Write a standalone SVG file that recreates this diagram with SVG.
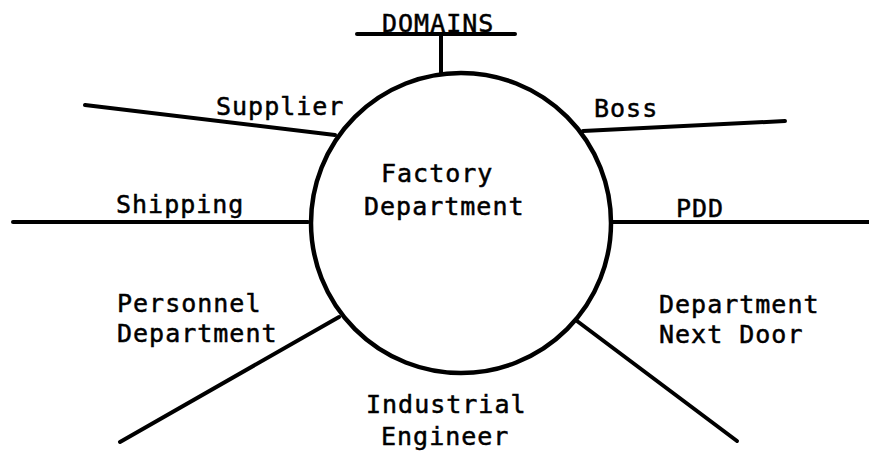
<svg xmlns="http://www.w3.org/2000/svg" width="869" height="451" viewBox="0 0 869 451">
  <style>
    .edge { stroke: #000; stroke-width: 4; stroke-linecap: round; fill: none; }
    .proc { stroke: #000; stroke-width: 4.5; fill: #fff; }
    .lbl { font-family: "DejaVu Sans Mono", "Liberation Mono", monospace; font-size: 25px; letter-spacing: 1px; fill: #000; stroke: #000; stroke-width: 0.5px; }
  </style>
  <rect width="869" height="451" fill="#fff"/>

  <!-- connectors from the process to its neighbours -->
  <g id="connectors">
    <line class="edge" x1="441" y1="34" x2="441" y2="73"/>
    <line class="edge" x1="85" y1="105" x2="335" y2="135"/>
    <line class="edge" x1="13" y1="222" x2="308" y2="222"/>
    <line class="edge" x1="583" y1="131" x2="785" y2="121"/>
    <line class="edge" x1="612" y1="222" x2="869" y2="222"/>
    <line class="edge" x1="339" y1="317" x2="120" y2="442"/>
    <line class="edge" x1="577" y1="321" x2="737" y2="441"/>
  </g>

  <!-- central process -->
  <g id="factory">
    <circle class="proc" cx="461" cy="223" r="150"/>
    <text class="lbl" x="381" y="182">Factory</text>
    <text class="lbl" x="364" y="215">Department</text>
  </g>

  <!-- data store -->
  <g id="domains">
    <line class="edge" x1="357" y1="34" x2="515" y2="34"/>
    <text class="lbl" x="382" y="32">DOMAINS</text>
  </g>

  <g id="supplier">
    <text class="lbl" x="216" y="115">Supplier</text>
  </g>

  <g id="shipping">
    <text class="lbl" x="116" y="213">Shipping</text>
  </g>

  <g id="boss">
    <text class="lbl" x="594" y="117">Boss</text>
  </g>

  <g id="pdd">
    <text class="lbl" x="676" y="217">PDD</text>
  </g>

  <g id="personnel">
    <text class="lbl" x="117" y="312">Personnel</text>
    <text class="lbl" x="117" y="342">Department</text>
  </g>

  <g id="next-door">
    <text class="lbl" x="659" y="313">Department</text>
    <text class="lbl" x="659" y="343">Next Door</text>
  </g>

  <g id="industrial">
    <text class="lbl" x="366" y="413">Industrial</text>
    <text class="lbl" x="381" y="445">Engineer</text>
  </g>
</svg>
